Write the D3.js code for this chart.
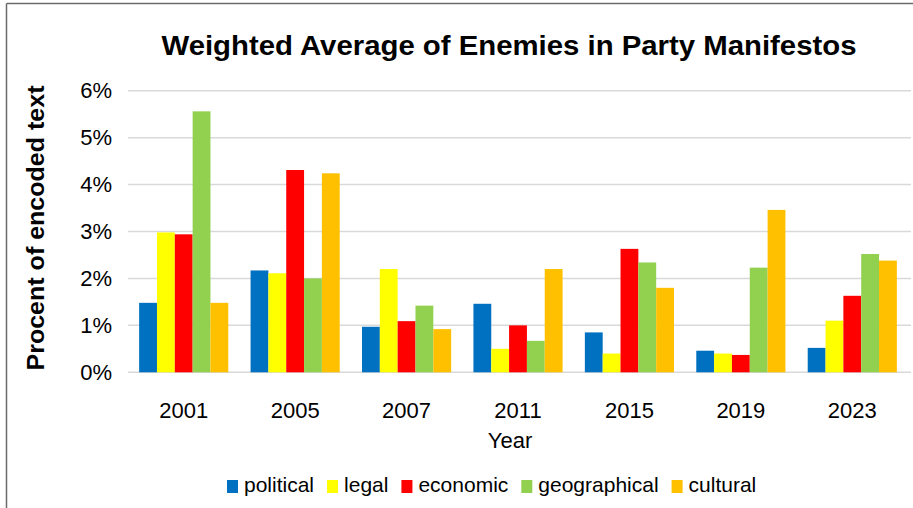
<!DOCTYPE html>
<html>
<head>
<meta charset="utf-8">
<script src="https://cdn.jsdelivr.net/npm/d3@7"></script>
<style>
  html, body { margin: 0; padding: 0; background: #fff; }
  svg { display: block; font-family: "Liberation Sans", Arial, sans-serif; }
</style>
</head>
<body>
<svg id="chart" width="913" height="508"></svg>
<script>
// Election years on the x axis
const years = ["2001", "2005", "2007", "2011", "2015", "2019", "2023"];

// Enemy categories (one bar per category in each year)
const categories = ["political", "legal", "economic", "geographical", "cultural"];
const colors = ["#0070C0", "#FFFF00", "#FF0000", "#92D050", "#FFC000"];

// Share of encoded text, in percent, per category and year
const political    = [1.48, 2.17, 0.97, 1.46, 0.85, 0.46, 0.52];
const legal        = [2.98, 2.11, 2.20, 0.50, 0.40, 0.40, 1.10];
const economic     = [2.94, 4.31, 1.09, 1.00, 2.63, 0.37, 1.63];
const geographical = [5.56, 2.00, 1.42, 0.67, 2.34, 2.23, 2.52];
const cultural     = [1.48, 4.24, 0.92, 2.20, 1.80, 3.46, 2.38];

// Axis ticks and labels
const yTicks = [0, 1, 2, 3, 4, 5, 6];
const titleText = "Weighted Average of Enemies in Party Manifestos";
const xTitle = "Year";
const yTitle = "Procent of encoded text";

const series = [political, legal, economic, geographical, cultural];
const rows = years.map((y, i) => ({
  year: y,
  values: categories.map((c, k) => ({ key: c, value: series[k][i], color: colors[k] }))
}));

const svg = d3.select("#chart");

// Frame lines along the top and left edges
svg.append("line").attr("x1", 6.5).attr("y1", 3.5).attr("x2", 913).attr("y2", 3.5)
  .attr("stroke", "#6b6b6b").attr("stroke-width", 1.5);
svg.append("line").attr("x1", 6.5).attr("y1", 3.5).attr("x2", 6.5).attr("y2", 508)
  .attr("stroke", "#6b6b6b").attr("stroke-width", 1.5);

const x0 = d3.scaleBand().domain(years).range([128, 908]).paddingInner(0.2).paddingOuter(0.1);
const x1 = d3.scaleBand().domain(categories).range([0, x0.bandwidth()]).padding(0);
const y = d3.scaleLinear().domain([0, 6]).range([372.3, 90.7]);

// Horizontal gridlines
svg.append("g")
  .selectAll("line")
  .data(yTicks)
  .join("line")
  .attr("x1", 128).attr("x2", 911)
  .attr("y1", d => y(d)).attr("y2", d => y(d))
  .attr("stroke", "#d9d9d9").attr("stroke-width", 1.5);

// Y axis tick labels
const yAxis = d3.axisLeft(y).tickValues(yTicks).tickFormat(d => d + "%").tickSize(0).tickPadding(0);
const gy = svg.append("g").attr("transform", "translate(112,0)").call(yAxis);
gy.select(".domain").remove();
gy.selectAll("text").attr("font-size", 22).attr("fill", "#000")
  .attr("font-family", "'Liberation Sans', Arial, sans-serif");

// Bars
const groups = svg.append("g")
  .selectAll("g")
  .data(rows)
  .join("g")
  .attr("transform", d => `translate(${x0(d.year)},0)`);

groups.selectAll("rect")
  .data(d => d.values)
  .join("rect")
  .attr("x", d => x1(d.key))
  .attr("width", x1.bandwidth())
  .attr("y", d => y(d.value))
  .attr("height", d => y(0) - y(d.value))
  .attr("fill", d => d.color);

// X axis labels
const xAxis = d3.axisBottom(x0).tickSize(0).tickPadding(0);
const gx = svg.append("g").attr("transform", "translate(0,401)").call(xAxis);
gx.select(".domain").remove();
gx.selectAll("text").attr("font-size", 22).attr("fill", "#000").attr("dy", "0.75em")
  .attr("font-family", "'Liberation Sans', Arial, sans-serif");

// Axis titles
svg.append("text")
  .attr("x", 510).attr("y", 448)
  .attr("text-anchor", "middle")
  .attr("font-size", 22)
  .text(xTitle);

svg.append("text")
  .attr("transform", "translate(44,228) rotate(-90)")
  .attr("text-anchor", "middle")
  .attr("font-size", 24)
  .attr("font-weight", "bold")
  .attr("textLength", 285)
  .attr("lengthAdjust", "spacingAndGlyphs")
  .text(yTitle);

// Chart title
svg.append("text")
  .attr("x", 509).attr("y", 55)
  .attr("text-anchor", "middle")
  .attr("font-size", 27)
  .attr("font-weight", "bold")
  .attr("textLength", 695)
  .attr("lengthAdjust", "spacingAndGlyphs")
  .text(titleText);

// Legend
const legend = svg.append("g");
let lx = 227;
categories.forEach((c, k) => {
  legend.append("rect")
    .attr("x", lx).attr("y", 480)
    .attr("width", 11).attr("height", 13)
    .attr("fill", colors[k]);
  const t = legend.append("text")
    .attr("x", lx + 17).attr("y", 492)
    .attr("font-size", 21)
    .text(c);
  lx += 17 + t.node().getComputedTextLength() + 13;
});
</script>
</body>
</html>
